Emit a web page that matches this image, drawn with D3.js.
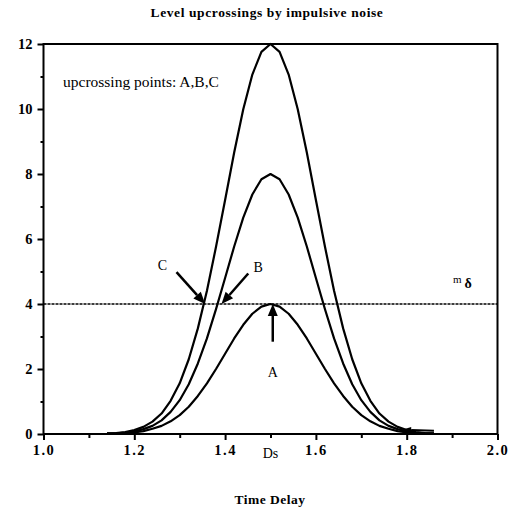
<!DOCTYPE html>
<html>
<head>
<meta charset="utf-8">
<script src="https://cdn.jsdelivr.net/npm/d3@7"></script>
<style>
  html, body { margin: 0; padding: 0; background: #fff; }
  svg { display: block; }
  text { font-family: "Liberation Serif", "DejaVu Serif", serif; fill: #000; }
</style>
</head>
<body>
<svg id="chart" width="529" height="513"></svg>
<script>
// Time delay samples (s)
const timeDelay = [1.14,1.16,1.18,1.20,1.22,1.24,1.26,1.28,1.30,1.32,1.34,1.36,1.38,1.40,1.42,1.44,1.46,1.48,
                   1.50,1.52,1.54,1.56,1.58,1.60,1.62,1.64,1.66,1.68,1.70,1.72,1.74,1.76,1.78,1.80,1.82,1.84,1.86];

// Level-crossing counts for three impulse amplitudes
const curveC = [0.02,0.03,0.06,0.12,0.22,0.38,0.63,1.02,1.56,2.30,3.25,4.41,5.76,7.20,8.66,9.99,11.06,11.76,
                12.00,11.76,11.06,9.99,8.66,7.20,5.76,4.41,3.25,2.30,1.56,1.02,0.63,0.38,0.22,0.12,0.06,0.03,0.02];
const curveB = [0.01,0.02,0.04,0.08,0.15,0.25,0.42,0.68,1.04,1.53,2.17,2.94,3.84,4.80,5.77,6.66,7.37,7.84,
                8.00,7.84,7.37,6.66,5.77,4.80,3.84,2.94,2.17,1.53,1.04,0.68,0.42,0.25,0.15,0.08,0.04,0.02,0.01];
const curveA = [0.01,0.02,0.03,0.05,0.09,0.16,0.25,0.39,0.58,0.84,1.17,1.56,2.00,2.47,2.94,3.36,3.70,3.92,
                4.00,3.92,3.70,3.36,2.94,2.47,2.00,1.56,1.17,0.84,0.58,0.39,0.25,0.16,0.09,0.05,0.03,0.02,0.01];

// Threshold level m_delta
const threshold = 4;

// Axis ticks
const xMajorTicks = [1.0, 1.2, 1.4, 1.6, 1.8, 2.0];
const xTickLabels = ["1.0", "1.2", "1.4", "1.6", "1.8", "2.0"];
const xMinorTicks = [1.1, 1.3, 1.5, 1.7, 1.9];
const yMajorTicks = [0, 2, 4, 6, 8, 10, 12];
const yMinorTicks = [1, 3, 5, 7, 9, 11];

// Arrow annotations: label, label position, arrow tail, arrow tip (data units)
const arrowNames  = ["C", "B", "A"];
const arrowLabelX = [1.262, 1.473, 1.505];
const arrowLabelY = [5.05, 4.98, 1.75];
const arrowTailX  = [1.293, 1.451, 1.505];
const arrowTailY  = [4.98, 4.94, 2.84];
const arrowTipX   = [1.356, 1.392, 1.505];
const arrowTipY   = [4.0, 4.0, 4.0];

// small arrow on the right tail
const tailArrow = { x1: 1.86, y1: 0.1, x2: 1.79, y2: 0.13 };

const svg = d3.select("#chart");
const plotLeft = 43.5, plotRight = 497.5, plotTop = 44, plotBottom = 434;

const x = d3.scaleLinear().domain([1, 2]).range([plotLeft, plotRight]);
const y = d3.scaleLinear().domain([0, 12]).range([plotBottom, plotTop]);

// Title
svg.append("text")
  .attr("x", 267).attr("y", 17)
  .attr("text-anchor", "middle")
  .style("font-size", "13.5px").style("font-weight", "bold")
  .style("letter-spacing", "0.6px")
  .text("Level upcrossings by impulsive noise");

// Axes
const yAxis = d3.axisLeft(y).tickValues(yMajorTicks).tickSize(6).tickPadding(5)
  .tickFormat(d3.format("d"));
const yMinor = d3.axisLeft(y).tickValues(yMinorTicks).tickSize(3).tickFormat("");
const xAxis = d3.axisBottom(x).tickValues(xMajorTicks).tickSize(6).tickPadding(5)
  .tickFormat((d, i) => xTickLabels[i]);
const xMinor = d3.axisBottom(x).tickValues(xMinorTicks).tickSize(4).tickFormat("");

function styleAxis(g) {
  g.select(".domain").remove();
  g.selectAll(".tick line").attr("stroke", "#000").attr("stroke-width", 2);
  g.selectAll(".tick text")
    .style("font-family", "'Liberation Serif', serif")
    .style("font-size", "14.5px").style("font-weight", "bold");
}

svg.append("g").attr("transform", `translate(${plotLeft},0)`).call(yAxis).call(styleAxis);
svg.append("g").attr("transform", `translate(${plotLeft},0)`).call(yMinor).call(styleAxis);
svg.append("g").attr("transform", `translate(0,${plotBottom})`).call(xAxis).call(styleAxis)
  .selectAll(".tick text").style("letter-spacing", "1.5px");
svg.append("g").attr("transform", `translate(0,${plotBottom})`).call(xMinor).call(styleAxis);

// Threshold line
svg.append("line")
  .attr("x1", x(1)).attr("x2", x(2))
  .attr("y1", y(threshold)).attr("y2", y(threshold))
  .attr("stroke", "#000").attr("stroke-width", 1.3)
  .attr("stroke-dasharray", "3,1");

// Curves
const line = d3.line().x((d, i) => x(timeDelay[i])).y(d => y(d));
[curveC, curveB, curveA].forEach(s => {
  svg.append("path")
    .datum(s)
    .attr("d", line)
    .attr("fill", "none")
    .attr("stroke", "#000")
    .attr("stroke-width", 2.2)
    .attr("stroke-linejoin", "round");
});

// Frame
svg.append("rect")
  .attr("x", plotLeft).attr("y", plotTop)
  .attr("width", plotRight - plotLeft).attr("height", plotBottom - plotTop)
  .attr("fill", "none").attr("stroke", "#000").attr("stroke-width", 2);

// Arrows
function drawArrow(x1, y1, x2, y2, headLen, headW, sw) {
  const dx = x2 - x1, dy = y2 - y1, len = Math.hypot(dx, dy);
  const ux = dx / len, uy = dy / len;
  const bx = x2 - ux * headLen, by = y2 - uy * headLen;
  svg.append("line")
    .attr("x1", x1).attr("y1", y1).attr("x2", bx).attr("y2", by)
    .attr("stroke", "#000").attr("stroke-width", sw);
  svg.append("path")
    .attr("d", `M${x2},${y2} L${bx - uy * headW / 2},${by + ux * headW / 2} L${bx + uy * headW / 2},${by - ux * headW / 2} Z`)
    .attr("fill", "#000");
}

arrowNames.forEach((name, i) => {
  drawArrow(x(arrowTailX[i]), y(arrowTailY[i]), x(arrowTipX[i]), y(arrowTipY[i]), 12, 10, 2.5);
  svg.append("text")
    .attr("x", x(arrowLabelX[i])).attr("y", y(arrowLabelY[i]))
    .attr("text-anchor", "middle")
    .style("font-size", "14px")
    .text(name);
});

drawArrow(x(tailArrow.x1), y(tailArrow.y1), x(tailArrow.x2), y(tailArrow.y2), 9, 6, 2);

// Labels
svg.append("text")
  .attr("x", 63).attr("y", 87)
  .style("font-size", "15.5px")
  .text("upcrossing points: A,B,C");

const md = svg.append("text").attr("x", 453).attr("y", 283);
md.append("tspan").style("font-size", "11px").text("m");
md.append("tspan").attr("dx", 3).attr("dy", 5).style("font-size", "14px").style("font-weight", "bold").text("δ");

svg.append("text")
  .attr("x", x(1.5)).attr("y", 458)
  .attr("text-anchor", "middle")
  .style("font-size", "14px")
  .text("Ds");

svg.append("text")
  .attr("x", 270).attr("y", 504)
  .attr("text-anchor", "middle")
  .style("font-size", "13.5px").style("font-weight", "bold")
  .style("letter-spacing", "0.5px")
  .text("Time Delay");
</script>
</body>
</html>
